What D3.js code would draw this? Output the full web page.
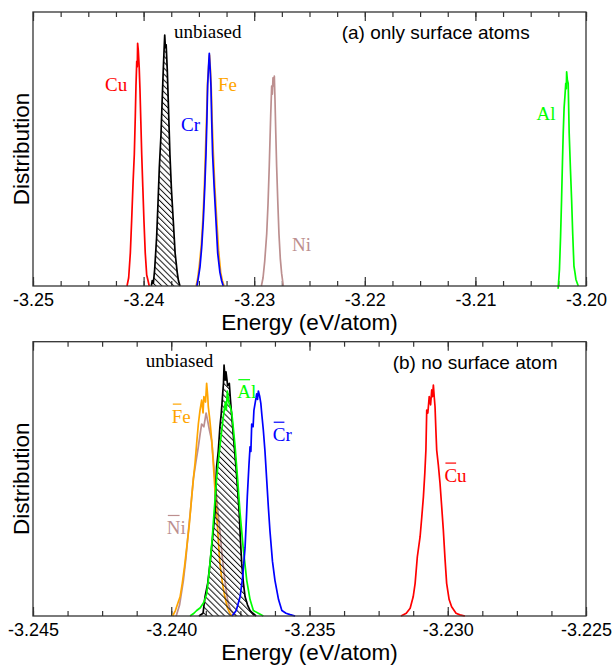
<!DOCTYPE html>
<html>
<head>
<meta charset="utf-8">
<script src="https://cdn.jsdelivr.net/npm/d3@7"></script>
<style>
  html, body { margin: 0; padding: 0; background: #fff; }
  svg { display: block; }
  .tick text { font-family: "Liberation Sans", Arial, sans-serif; font-size: 18px; fill: #000; }
</style>
</head>
<body>
<svg id="chart" width="615" height="666"></svg>
<script>
// ---------- Data ----------
const ticksA = [-3.25, -3.24, -3.23, -3.22, -3.21, -3.20];
const tickLabelsA = ["-3.25", "-3.24", "-3.23", "-3.22", "-3.21", "-3.20"];
const ticksB = [-3.245, -3.240, -3.235, -3.230, -3.225];
const tickLabelsB = ["-3.245", "-3.240", "-3.235", "-3.230", "-3.225"];

// Panel (a): only surface atoms  [energy, normalized distribution]
const cuA = [[-3.24150,0],[-3.24135,0.03],[-3.24120,0.12],[-3.24108,0.24],[-3.24095,0.38],[-3.24084,0.48],[-3.24075,0.62],[-3.24069,0.73],[-3.24062,0.82],[-3.24057,0.80],[-3.24054,0.886],[-3.24048,0.86],[-3.24040,0.80],[-3.24033,0.72],[-3.24025,0.60],[-3.24017,0.48],[-3.24007,0.36],[-3.23997,0.24],[-3.23985,0.12],[-3.23972,0.04],[-3.23960,0.02],[-3.23949,0]];
const unbiasedA = [[-3.23930,0],[-3.23922,0.02],[-3.23912,0.01],[-3.23900,0.06],[-3.23882,0.18],[-3.23870,0.30],[-3.23858,0.43],[-3.23843,0.55],[-3.23832,0.68],[-3.23822,0.79],[-3.23815,0.86],[-3.23809,0.916],[-3.23803,0.87],[-3.23796,0.88],[-3.23786,0.79],[-3.23775,0.65],[-3.23762,0.48],[-3.23748,0.35],[-3.23732,0.24],[-3.23715,0.12],[-3.23696,0.05],[-3.23685,0.02],[-3.23671,0]];
const feA = [[-3.23525,0],[-3.23510,0.03],[-3.23495,0.08],[-3.23478,0.15],[-3.23463,0.25],[-3.23450,0.37],[-3.23440,0.50],[-3.23430,0.62],[-3.23422,0.74],[-3.23412,0.80],[-3.23404,0.843],[-3.23396,0.79],[-3.23388,0.72],[-3.23380,0.60],[-3.23370,0.49],[-3.23357,0.37],[-3.23340,0.25],[-3.23322,0.13],[-3.23303,0.05],[-3.23288,0.02],[-3.23272,0]];
const crA = [[-3.23518,0],[-3.23505,0.03],[-3.23490,0.07],[-3.23475,0.14],[-3.23460,0.24],[-3.23447,0.36],[-3.23436,0.48],[-3.23428,0.60],[-3.23421,0.73],[-3.23413,0.80],[-3.23406,0.849],[-3.23399,0.80],[-3.23391,0.73],[-3.23384,0.60],[-3.23376,0.48],[-3.23362,0.36],[-3.23346,0.24],[-3.23330,0.12],[-3.23310,0.05],[-3.23295,0.02],[-3.23280,0]];
const niA = [[-3.22935,0],[-3.22920,0.03],[-3.22905,0.09],[-3.22887,0.19],[-3.22875,0.30],[-3.22864,0.435],[-3.22851,0.62],[-3.22842,0.73],[-3.22836,0.70],[-3.22830,0.76],[-3.22825,0.73],[-3.22818,0.766],[-3.22812,0.68],[-3.22805,0.56],[-3.22797,0.435],[-3.22786,0.30],[-3.22776,0.19],[-3.22764,0.10],[-3.22752,0.046],[-3.22737,0]];
const alA = [[-3.20252,-0.01],[-3.20240,0.06],[-3.20230,0.18],[-3.20221,0.314],[-3.20213,0.45],[-3.20206,0.557],[-3.20198,0.65],[-3.20191,0.69],[-3.20183,0.74],[-3.20178,0.72],[-3.20175,0.782],[-3.20168,0.75],[-3.20161,0.74],[-3.20152,0.557],[-3.20141,0.43],[-3.20130,0.314],[-3.20120,0.19],[-3.20109,0.073],[-3.20100,0.05],[-3.20091,0.024],[-3.20070,0]];

// Panel (b): no surface atom
const niB = [[-3.23982,0],[-3.23970,0.04],[-3.23956,0.13],[-3.23947,0.21],[-3.23938,0.31],[-3.23929,0.40],[-3.23920,0.50],[-3.23911,0.56],[-3.23902,0.617],[-3.23896,0.66],[-3.23890,0.70],[-3.23882,0.69],[-3.23874,0.74],[-3.23868,0.71],[-3.23862,0.678],[-3.23858,0.66],[-3.23854,0.64],[-3.23848,0.57],[-3.23842,0.50],[-3.23833,0.40],[-3.23824,0.31],[-3.23816,0.22],[-3.23809,0.156],[-3.23801,0.09],[-3.23794,0.046],[-3.23785,0.02],[-3.23776,0.01],[-3.23766,0]];
const feB = [[-3.23995,0],[-3.23985,0.02],[-3.23975,0.05],[-3.23968,0.07],[-3.23960,0.12],[-3.23952,0.18],[-3.23944,0.25],[-3.23935,0.33],[-3.23926,0.435],[-3.23920,0.50],[-3.23914,0.557],[-3.23908,0.63],[-3.23902,0.70],[-3.23896,0.75],[-3.23890,0.787],[-3.23885,0.74],[-3.23882,0.80],[-3.23876,0.78],[-3.23872,0.848],[-3.23868,0.80],[-3.23866,0.763],[-3.23861,0.72],[-3.23857,0.678],[-3.23852,0.62],[-3.23848,0.557],[-3.23842,0.46],[-3.23836,0.374],[-3.23830,0.28],[-3.23824,0.19],[-3.23815,0.12],[-3.23806,0.07],[-3.23797,0.03],[-3.23788,0.01],[-3.23780,0]];
const unbiasedB = [[-3.23900,0],[-3.23885,0.01],[-3.23878,0.07],[-3.23868,0.12],[-3.23860,0.19],[-3.23851,0.28],[-3.23842,0.374],[-3.23836,0.544],[-3.23830,0.60],[-3.23824,0.69],[-3.23819,0.74],[-3.23814,0.81],[-3.23811,0.85],[-3.23809,0.915],[-3.23805,0.86],[-3.23802,0.89],[-3.23796,0.84],[-3.23790,0.848],[-3.23786,0.79],[-3.23781,0.727],[-3.23774,0.64],[-3.23766,0.544],[-3.23760,0.46],[-3.23754,0.374],[-3.23750,0.28],[-3.23745,0.19],[-3.23739,0.12],[-3.23733,0.07],[-3.23724,0.04],[-3.23715,0.02],[-3.23705,0.01],[-3.23693,0]];
const alB = [[-3.23932,0],[-3.23918,0.01],[-3.23908,0.02],[-3.23895,0.03],[-3.23882,0.05],[-3.23872,0.08],[-3.23866,0.13],[-3.23860,0.19],[-3.23852,0.28],[-3.23845,0.38],[-3.23836,0.50],[-3.23826,0.60],[-3.23817,0.68],[-3.23810,0.74],[-3.23804,0.78],[-3.23801,0.75],[-3.23797,0.82],[-3.23792,0.78],[-3.23786,0.76],[-3.23781,0.74],[-3.23775,0.68],[-3.23769,0.617],[-3.23760,0.50],[-3.23751,0.374],[-3.23740,0.25],[-3.23727,0.13],[-3.23715,0.06],[-3.23703,0.02],[-3.23685,0.01],[-3.23667,0]];
const crB = [[-3.23780,0],[-3.23765,0.02],[-3.23751,0.07],[-3.23742,0.14],[-3.23733,0.25],[-3.23728,0.36],[-3.23725,0.435],[-3.23719,0.55],[-3.23715,0.617],[-3.23712,0.60],[-3.23709,0.70],[-3.23704,0.69],[-3.23701,0.75],[-3.23696,0.78],[-3.23691,0.81],[-3.23688,0.79],[-3.23685,0.82],[-3.23680,0.80],[-3.23676,0.775],[-3.23672,0.73],[-3.23667,0.678],[-3.23661,0.60],[-3.23655,0.50],[-3.23649,0.40],[-3.23643,0.31],[-3.23634,0.20],[-3.23625,0.13],[-3.23612,0.06],[-3.23600,0.02],[-3.23585,0.01],[-3.23570,0.005],[-3.23552,0]];
const cuB = [[-3.23169,0],[-3.23150,0.01],[-3.23136,0.028],[-3.23125,0.07],[-3.23118,0.119],[-3.23110,0.216],[-3.23100,0.289],[-3.23094,0.36],[-3.23088,0.435],[-3.23083,0.52],[-3.23079,0.605],[-3.23076,0.751],[-3.23072,0.74],[-3.23067,0.80],[-3.23062,0.77],[-3.23058,0.824],[-3.23055,0.80],[-3.23052,0.842],[-3.23049,0.80],[-3.23046,0.763],[-3.23043,0.68],[-3.23040,0.605],[-3.23034,0.55],[-3.23028,0.484],[-3.23022,0.40],[-3.23016,0.314],[-3.23010,0.21],[-3.23004,0.119],[-3.22995,0.06],[-3.22986,0.034],[-3.22970,0.01],[-3.22956,0.004],[-3.22938,0]];

// ---------- Drawing ----------
const svg = d3.select("#chart");
const sansFont = '"Liberation Sans", Arial, sans-serif';
const serifFont = '"Liberation Serif", "Times New Roman", serif';
const COLORS = { cu: "#ff0000", unb: "#000000", fe: "#ffa500", cr: "#0000ff", ni: "#bc8f8f", al: "#00ff00" };

const defs = svg.append("defs");
defs.append("pattern")
  .attr("id", "hatch").attr("patternUnits", "userSpaceOnUse")
  .attr("width", 4.2).attr("height", 4.2)
  .attr("patternTransform", "rotate(-45)")
  .append("line").attr("x1", 0.5).attr("y1", 0).attr("x2", 0.5).attr("y2", 4.2)
  .attr("stroke", "#111").attr("stroke-width", 1);

function drawPanel(cfg) {
  const x = d3.scaleLinear().domain(cfg.domain).range([33, 586]);
  const y = d3.scaleLinear().domain([0, 1]).range([cfg.bottom, cfg.top]);
  const g = svg.append("g");

  const minors = d3.range(0, Math.round((cfg.domain[1] - cfg.domain[0]) / cfg.minorStep) + 1)
    .map(i => cfg.domain[0] + i * cfg.minorStep);

  // minor + major ticks, bottom & top
  const gb = g.append("g").attr("transform", `translate(0,${cfg.bottom})`);
  gb.append("g").call(d3.axisBottom(x).tickValues(minors).tickSize(-5).tickFormat(""));
  gb.append("g").call(d3.axisBottom(x).tickValues(cfg.ticks).tickSize(-9).tickPadding(7.5)
    .tickFormat((d, i) => cfg.labels[i]));
  const gt = g.append("g").attr("transform", `translate(0,${cfg.top})`);
  gt.append("g").call(d3.axisTop(x).tickValues(minors).tickSize(-5).tickFormat(""));
  gt.append("g").call(d3.axisTop(x).tickValues(cfg.ticks).tickSize(-9).tickFormat(""));
  g.selectAll(".domain").remove();
  g.selectAll(".tick line").attr("stroke", "#333").attr("stroke-width", 1.2);

  const line = d3.line().x(d => x(d[0])).y(d => y(d[1]));
  const area = d3.area().x(d => x(d[0])).y0(y(0)).y1(d => y(d[1]));

  cfg.series.forEach(s => {
    if (s.hatch) {
      g.append("path").datum(s.data).attr("d", area).attr("fill", "url(#hatch)");
    }
    g.append("path").datum(s.data).attr("d", line)
      .attr("fill", "none").attr("stroke", s.color).attr("stroke-width", 1.7)
      .attr("stroke-linejoin", "round");
  });

  // frame
  g.append("rect").attr("x", 33).attr("y", cfg.top).attr("width", 553).attr("height", cfg.bottom - cfg.top)
    .attr("fill", "none").attr("stroke", "#333").attr("stroke-width", 1.3);

  // series labels
  cfg.textLabels.forEach(l => {
    const t = g.append("text").attr("x", x(l.e)).attr("y", y(l.h))
      .attr("font-family", serifFont).attr("font-size", 19).attr("fill", l.color).text(l.text);
    if (l.bar) {
      const w = t.node().getSubStringLength(0, 1);
      g.append("line").attr("x1", x(l.e) + 1).attr("x2", x(l.e) + w - 1)
        .attr("y1", y(l.h) - 18.5).attr("y2", y(l.h) - 18.5)
        .attr("stroke", l.color).attr("stroke-width", 1.2);
    }
  });

  // panel title
  g.append("text").attr("x", x(cfg.title.e)).attr("y", y(cfg.title.h))
    .attr("font-family", sansFont).attr("font-size", 19).attr("fill", "#000").text(cfg.title.text);

  // axis titles
  g.append("text").attr("x", 309.5).attr("y", cfg.bottom + 44)
    .attr("text-anchor", "middle").attr("font-family", sansFont).attr("font-size", 22.5)
    .text("Energy (eV/atom)");
  g.append("text").attr("transform", `translate(28.5,${(cfg.top + cfg.bottom) / 2}) rotate(-90)`)
    .attr("text-anchor", "middle").attr("font-family", sansFont).attr("font-size", 22.5)
    .text("Distribution");
}

drawPanel({
  domain: [-3.25, -3.20], minorStep: 0.0025, ticks: ticksA, labels: tickLabelsA,
  top: 12, bottom: 286,
  series: [
    { data: cuA, color: COLORS.cu },
    { data: unbiasedA, color: COLORS.unb, hatch: true },
    { data: feA, color: COLORS.fe },
    { data: crA, color: COLORS.cr },
    { data: niA, color: COLORS.ni },
    { data: alA, color: COLORS.al }
  ],
  textLabels: [
    { text: "unbiased", e: -3.23725, h: 0.905, color: COLORS.unb },
    { text: "Cu", e: -3.24349, h: 0.713, color: COLORS.cu },
    { text: "Fe", e: -3.23328, h: 0.713, color: COLORS.fe },
    { text: "Cr", e: -3.23662, h: 0.567, color: COLORS.cr },
    { text: "Ni", e: -3.22659, h: 0.129, color: COLORS.ni },
    { text: "Al", e: -3.20447, h: 0.606, color: COLORS.al }
  ],
  title: { text: "(a) only surface atoms", e: -3.22209, h: 0.900 }
});

drawPanel({
  domain: [-3.245, -3.225], minorStep: 0.00125, ticks: ticksB, labels: tickLabelsB,
  top: 341.7, bottom: 616,
  series: [
    { data: niB, color: COLORS.ni },
    { data: feB, color: COLORS.fe },
    { data: unbiasedB, color: COLORS.unb, hatch: true },
    { data: alB, color: COLORS.al },
    { data: crB, color: COLORS.cr },
    { data: cuB, color: COLORS.cu }
  ],
  textLabels: [
    { text: "unbiased", e: -3.24092, h: 0.907, color: COLORS.unb },
    { text: "Fe", e: -3.23998, h: 0.705, color: COLORS.fe, bar: true },
    { text: "Ni", e: -3.24016, h: 0.299, color: COLORS.ni, bar: true },
    { text: "Al", e: -3.23761, h: 0.794, color: COLORS.al, bar: true },
    { text: "Cr", e: -3.23633, h: 0.639, color: COLORS.cr, bar: true },
    { text: "Cu", e: -3.23012, h: 0.490, color: COLORS.cu, bar: true }
  ],
  title: { text: "(b) no surface atom", e: -3.23199, h: 0.899 }
});
</script>
</body>
</html>
